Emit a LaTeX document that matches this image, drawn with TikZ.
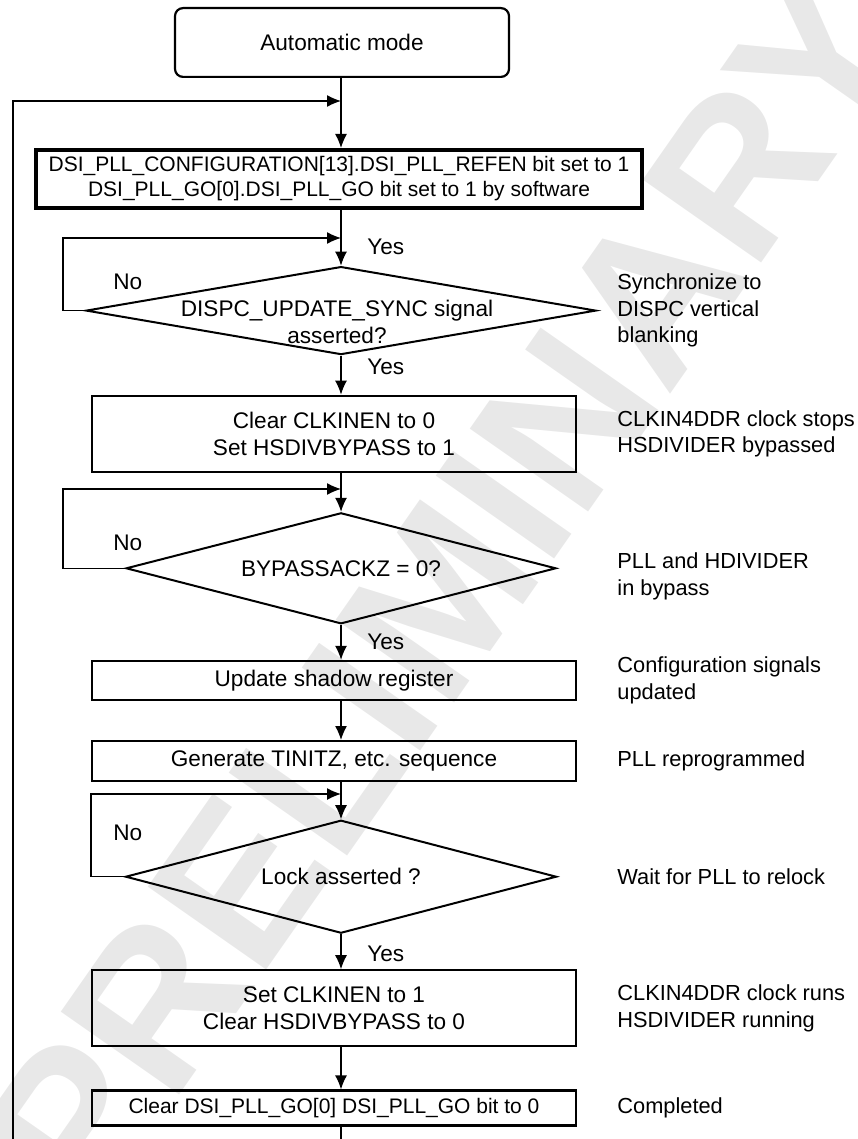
\documentclass[tikz,border=0pt]{standalone}
\usepackage{fontspec}
\setmainfont{Liberation Sans}
\usepackage{tikz}
\usetikzlibrary{arrows.meta,positioning,shapes.geometric}
\newcommand{\fcfont}{\fontsize{11.3}{13.5}\selectfont}
\newcommand{\fcsmall}{\fontsize{10.5}{12.5}\selectfont}
\newcommand{\fcnote}{\fontsize{10.9}{13.2}\selectfont}
\tikzset{
  fc/start/.style={draw, rounded corners=4pt, line width=1.1pt, minimum width=167pt, minimum height=34.4pt, align=center, font=\fcfont},
  fc/proc/.style={draw, line width=1.1pt, minimum width=242pt, inner sep=0pt, align=center, font=\fcfont},
  fc/setup/.style={fc/proc, line width=1.8pt, minimum width=303pt, minimum height=29pt, font=\fcsmall},
  fc/decide/.style={draw, diamond, line width=1pt, inner sep=0pt},
  fc/dtext/.style={align=center, inner sep=0pt, font=\fcfont},
  fc/note/.style={anchor=west, align=left, inner sep=0pt, font=\fcnote},
  fc/lbl/.style={anchor=west, inner sep=0pt, font=\fcfont},
  fc/line/.style={line width=0.65pt},
  arr/.style={fc/line, -{Latex[length=7pt,width=6pt]}},
  watermark/.style={text=black!9, inner sep=0pt, font=\fontsize{105}{105}\selectfont\bfseries, rotate=55}
}
\begin{document}
\begin{tikzpicture}[x=0.5pt, y=-0.5pt]
\useasboundingbox (0,0) rectangle (857,1139);
\node[watermark] (wm) at (445,590) {PRELIMINARY};
\coordinate (spine) at (341,0);
\coordinate (notecol) at (617,0);
\coordinate (bottom) at (0,1139);
\node[fc/start] (auto) at (342,42.5) {Automatic mode};
\node[fc/setup, below=35pt of auto, xshift=-1.5pt] (cfg) {DSI\_PLL\_CONFIGURATION[13].DSI\_PLL\_REFEN bit set to 1\\DSI\_PLL\_GO[0].DSI\_PLL\_GO bit set to 1 by software};
\node[fc/decide, minimum width=255pt, minimum height=44pt, below=28pt of cfg, xshift=1pt,
  label={[fc/dtext, yshift=-5.5pt, xshift=-2pt]center:DISPC\_UPDATE\_SYNC signal\\asserted?}] (sync) {};
\node[fc/proc, minimum height=38pt, below=19.5pt of sync, xshift=-3.5pt] (bypass) {Clear CLKINEN to 0\\Set HSDIVBYPASS to 1};
\node[fc/decide, minimum width=215pt, minimum height=55.5pt, below=19.5pt of bypass, xshift=3.5pt,
  label={[fc/dtext]center:BYPASSACKZ = 0?}] (ackz) {};
\node[fc/proc, minimum height=19.5pt, below=17.5pt of ackz, xshift=-3.5pt] (shadow) {Update shadow register};
\node[fc/proc, minimum height=20pt, below=19.5pt of shadow] (tinitz) {Generate TINITZ, etc. sequence};
\node[fc/decide, minimum width=215.5pt, minimum height=56.5pt, below=18.5pt of tinitz, xshift=3.5pt,
  label={[fc/dtext]center:Lock asserted ?}] (lock) {};
\node[fc/proc, minimum height=38pt, below=17.5pt of lock, xshift=-3.5pt] (relock) {Set CLKINEN to 1\\Clear HSDIVBYPASS to 0};
\node[fc/proc, minimum height=17.5pt, below=21pt of relock, font=\fcsmall] (done) {Clear DSI\_PLL\_GO[0] DSI\_PLL\_GO bit to 0};
% yes / no
\node[fc/lbl] (yes0) at (367,247) {Yes};
\node[fc/lbl] (yes1) at (367,367) {Yes};
\node[fc/lbl] (yes2) at (367,642) {Yes};
\node[fc/lbl] (yes3) at (367,954) {Yes};
\node[fc/lbl] (no1) at (113,282) {No};
\node[fc/lbl] (no2) at (113,543) {No};
\node[fc/lbl] (no3) at (113,833) {No};
% notes on the right
\node[fc/note] (nsync) at (sync -| notecol) {Synchronize to\\DISPC vertical\\blanking};
\node[fc/note] (nbypass) at (bypass -| notecol) {CLKIN4DDR clock stops\\HSDIVIDER bypassed};
\node[fc/note, yshift=-4pt] (nackz) at (ackz -| notecol) {PLL and HDIVIDER\\in bypass};
\node[fc/note] (nshadow) at (shadow -| notecol) {Configuration signals\\updated};
\node[fc/note] (ntinitz) at (tinitz -| notecol) {PLL reprogrammed};
\node[fc/note] (nlock) at (lock -| notecol) {Wait for PLL to relock};
\node[fc/note] (nrelock) at (relock -| notecol) {CLKIN4DDR clock runs\\HSDIVIDER running};
\node[fc/note] (ndone) at (done -| notecol) {Completed};
% main flow, all on the spine
\draw[arr] (auto.south -| spine) -- (cfg.north -| spine);
\draw[arr] (cfg.south -| spine) -- (sync);
\draw[arr] (sync) -- (bypass.north -| spine);
\draw[arr] (bypass.south -| spine) -- (ackz);
\draw[arr] (ackz) -- (shadow.north -| spine);
\draw[arr] (shadow.south -| spine) -- (tinitz.north -| spine);
\draw[arr] (tinitz.south -| spine) -- (lock);
\draw[arr] (lock) -- (relock.north -| spine);
\draw[arr] (relock.south -| spine) -- (done.north -| spine);
\draw[fc/line] (done.south -| spine) -- (bottom -| spine);
% loops
\coordinate (l0) at (13,101);
\coordinate (l0b) at (13,1139);
\coordinate (l2) at (63,238);
\coordinate (l3) at (63,489);
\coordinate (l4) at (91,794);
\draw[arr] (l0b) -- (l0) -- (l0 -| spine);
\draw[arr] (sync.west) -| (l2) -- (l2 -| spine);
\draw[arr] (ackz.west) -| (l3) -- (l3 -| spine);
\draw[arr] (lock.west) -| (l4) -- (l4 -| spine);
\end{tikzpicture}
\end{document}
